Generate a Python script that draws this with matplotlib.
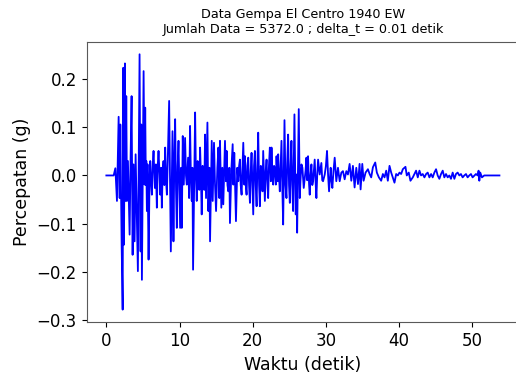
import matplotlib.pyplot as plt

# El Centro 1940 EW, peaks (detik, g)
waktu = [0.0, 1.0, 1.23, 1.45, 1.68, 1.82, 1.91, 2.09, 2.23, 2.32, 2.41, 2.54, 2.63, 2.72, 2.82,
         2.95, 3.18, 3.32, 3.45, 3.59, 3.72, 3.86, 4.0, 4.31, 4.54, 4.68, 4.77, 4.86, 5.09, 5.22,
         5.31, 5.4, 5.46, 5.54, 5.63, 5.77, 5.9, 6.0, 6.09, 6.22, 6.33, 6.45, 6.63, 6.77, 6.9,
         7.02, 7.13, 7.27, 7.36, 7.49, 7.58, 7.7, 7.81, 7.93, 8.04, 8.16, 8.27, 8.4, 8.58, 8.81,
         8.95, 9.04, 9.17, 9.28, 9.4, 9.52, 9.63, 9.75, 9.86, 9.99, 10.08,
         10.22, 10.31, 10.44, 10.58, 10.67, 10.76, 10.88, 10.99, 11.17, 11.31, 11.44, 11.55, 11.67,
         11.76, 11.85, 12.13, 12.24, 12.35, 12.47, 12.58, 12.7, 12.81, 12.92, 13.03, 13.15, 13.26,
         13.38, 13.49, 13.62, 13.81, 13.94, 14.08, 14.17, 14.4, 14.53, 14.62, 14.71, 14.85, 14.99,
         15.17, 15.31, 15.44,
         15.53, 15.71, 15.85, 15.98, 16.1, 16.21, 16.35, 16.44, 16.55, 16.67, 16.8, 16.89, 17.07,
         17.26, 17.35, 17.48, 17.6, 17.71, 17.89, 18.03, 18.14, 18.25, 18.36, 18.48, 18.6, 18.71,
         18.85, 18.94, 19.05, 19.16, 19.27, 19.39, 19.5, 19.62, 19.73, 19.84, 19.96, 20.07, 20.18,
         20.3, 20.41, 20.53, 20.64, 20.75, 20.87, 20.98, 21.1, 21.21, 21.34, 21.43, 21.55, 21.66,
         21.78, 21.89, 22.0, 22.11, 22.22, 22.34, 22.48, 22.57, 22.68, 22.8, 22.91, 23.02, 23.16,
         23.25, 23.39, 23.48, 23.59, 23.7, 23.82, 23.93, 24.05, 24.16, 24.34, 24.48, 24.61, 24.72,
         24.84, 24.96, 25.07, 25.18, 25.29, 25.4, 25.52, 25.7, 25.88, 25.97, 26.07, 26.29, 26.43,
         26.52, 26.66, 26.79, 26.97, 27.11, 27.22, 27.34, 27.45, 27.56, 27.7, 27.79, 27.9, 28.02,
         28.14, 28.25, 28.36, 28.47, 28.58, 28.7, 28.81, 28.93, 29.15, 29.38, 29.5, 29.61, 29.84,
         30.0, 30.15, 30.3, 30.43, 30.65, 30.76, 30.88, 31.04, 31.2, 31.42, 31.65, 31.88, 32.11,
         32.33, 32.56, 32.79, 33.01,
         33.24, 33.47, 33.69, 33.92, 34.15, 34.38, 34.6, 34.74, 34.97, 35.15, 35.42, 35.74, 35.97,
         36.19, 36.42, 36.74, 36.96, 37.24, 37.55, 37.78, 38.01, 38.24, 38.46, 38.69, 38.92, 39.14,
         39.37, 39.6, 39.83, 40.05, 40.28, 40.51, 40.87, 41.05, 41.32, 41.55, 41.87, 42.1, 42.32,
         42.55, 42.78, 43.0, 43.23, 43.46, 43.69, 43.91, 44.14, 44.37, 44.59, 44.82, 45.05, 45.27,
         45.5, 45.73, 45.96, 46.18, 46.41, 46.64, 46.86, 47.09, 47.32, 47.55, 47.77, 48.0, 48.23,
         48.45, 48.68, 48.91, 49.14, 49.36, 49.59, 49.82, 50.04, 50.5, 50.73, 50.86, 50.96, 51.09,
         51.32, 51.63, 53.71]
percepatan = [0.0, 0.0, 0.015, -0.053, 0.122, -0.047, 0.106, -0.144, -0.279, 0.224, -0.144, 0.233,
              -0.053, 0.165, -0.053, 0.03, -0.123, 0.044, 0.165, -0.165, 0.023, -0.137, 0.044,
              -0.199, 0.252, -0.158, 0.106, -0.217, 0.217, -0.019,
              0.141, -0.02, 0.03, -0.074, 0.023, -0.175, -0.012, 0.03, -0.01, -0.04, 0.02, 0.051,
              -0.026, 0.023, -0.067, 0.02, 0.051, 0.002, -0.04, 0.016, -0.067, 0.01, 0.03, -0.02,
              0.058, -0.01, -0.04, 0.037, 0.155, -0.158,
              0.002, 0.092, -0.137, 0.02, 0.117, -0.03, -0.109, 0.02, 0.072, -0.033, -0.109,
              0.016, -0.109, 0.082, -0.019, 0.03, 0.078, 0.0, -0.019, 0.037, -0.047, 0.103, 0.0,
              -0.053, 0.016, -0.196, 0.131, 0.0, -0.053, 0.03, 0.016, -0.03, 0.058, 0.0, -0.081,
              0.02, 0.002, -0.03, 0.085, -0.047, 0.11, -0.074, 0.016, -0.137, 0.072, -0.053,
              0.01, 0.068, -0.02, -0.074, 0.016, 0.058, -0.047,
              0.072, -0.067, 0.016, -0.06, 0.01, 0.072, -0.012, 0.051, -0.02, -0.033, 0.016,
              -0.099, 0.009, 0.065, -0.019, 0.047, -0.03, -0.095, 0.016, -0.012, 0.02, 0.033,
              -0.02, -0.04, 0.02, 0.068, -0.019, 0.04, -0.02, -0.04, 0.02, 0.037, -0.02, -0.057,
              0.01, 0.047, -0.02, -0.081, 0.02, 0.051, -0.02, -0.064, 0.02, 0.089, -0.02, -0.064,
              0.02, 0.013, -0.033, 0.051, 0.0, -0.053, 0.01, 0.033, -0.01, -0.047, 0.02, 0.058,
              -0.012, 0.058, 0.0, -0.019, 0.02, 0.016, -0.019, 0.04, -0.012, 0.044, 0.0, -0.033,
              0.02, 0.072, -0.03, -0.102, 0.115, -0.02, -0.047, 0.03, 0.085, -0.02, -0.057, 0.02,
              0.072, -0.02, -0.074, 0.127, -0.081, 0.002, -0.119, 0.138, -0.047, -0.012, 0.023,
              0.016, -0.026, -0.005, 0.01, 0.037, -0.01, 0.04, -0.019, -0.04, 0.0, 0.023, -0.02,
              -0.012, 0.01, 0.033, -0.01, -0.047, 0.0, 0.033, 0.002, 0.026, -0.01, -0.012, 0.002,
              0.02, 0.051, 0.0, -0.033, 0.016, -0.01, -0.026, 0.01, 0.037, -0.012, 0.016, -0.012,
              0.006, 0.009, -0.008, 0.009, 0.002,
              0.024, -0.011, 0.02, -0.025, 0.016, -0.018, 0.024, -0.029, 0.024, -0.011, 0.006,
              0.013, 0.003, -0.004, 0.017, 0.027, 0.006, -0.004, -0.011, 0.003, -0.004, 0.01,
              -0.011, 0.02, 0.006, -0.004, -0.015, 0.003, 0.0, 0.006, 0.003, 0.013, 0.018, 0.0,
              0.006, -0.011, -0.004, 0.003, 0.01, -0.004, 0.01, 0.0, 0.003, -0.004, 0.003, 0.006,
              -0.004, 0.003, -0.004, 0.006, 0.013, 0.0, -0.007, 0.003, 0.01, -0.004, 0.003, -0.004,
              0.0, -0.007, 0.006, -0.007, 0.003, 0.006, 0.0, 0.003, -0.004, 0.0, 0.003, -0.004,
              0.0, 0.003, -0.004, 0.003, 0.0, 0.01, -0.011, 0.006, -0.004, 0.0, 0.0]

jumlah_data = 5372.0
delta_t = 0.01

fig = plt.figure(figsize=(5.16, 3.74), dpi=100)
ax = fig.add_axes([0.168, 0.138, 0.838, 0.751])
ax.plot(waktu, percepatan, color='blue', linewidth=1.3)
ax.set_title('Data Gempa El Centro 1940 EW\nJumlah Data = ' + str(jumlah_data)
             + ' ; delta_t = ' + str(delta_t) + ' detik', fontsize=9.2)
ax.set_xlabel('Waktu (detik)', fontsize=12.5)
ax.set_ylabel('Percepatan (g)', fontsize=12.5)
ax.tick_params(labelsize=12)
ax.spines['right'].set_visible(False)
for s in ax.spines.values():
    s.set_color('0.35')
fig.savefig('out.png', dpi=100)
